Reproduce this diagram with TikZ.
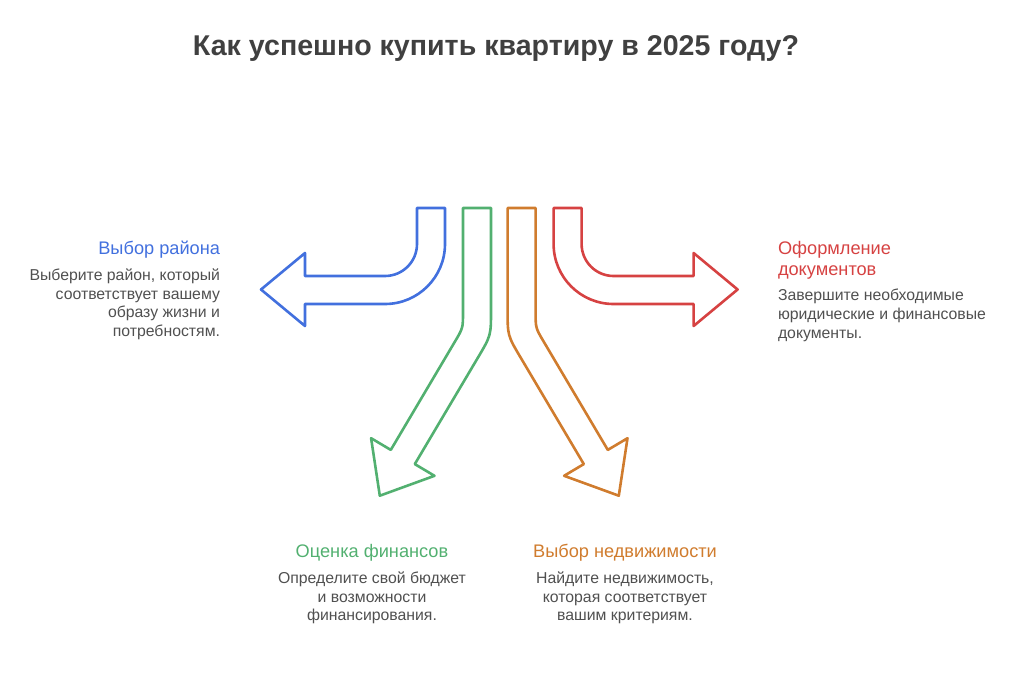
\documentclass[tikz,border=0pt]{standalone}
\usepackage{fontspec}
\setmainfont{Liberation Sans}
\usetikzlibrary{positioning}
\definecolor{ablue}{RGB}{66,112,222}
\definecolor{ared}{RGB}{214,66,66}
\definecolor{agreen}{RGB}{82,176,112}
\definecolor{aorange}{RGB}{208,124,46}
\definecolor{bodygray}{RGB}{80,80,80}
\definecolor{titlegray}{RGB}{64,64,64}
\tikzset{
    shaft/.style={line width=1.3pt, line join=round},
    heading/.style={inner sep=0pt, outer sep=0pt, font=\fontsize{9.1}{10.6}\selectfont},
    body/.style={inner sep=0pt, outer sep=0pt, text=bodygray, font=\fontsize{7.9}{9.4}\selectfont},
}

\begin{document}
\begin{tikzpicture}[x=0.5pt, y=-0.5pt, node distance=5pt]
    \useasboundingbox (0,0) rectangle (1024,681);
    \node[text=titlegray, font=\fontsize{14.3}{16}\selectfont\bfseries] (title) at (496,48) {Как успешно купить квартиру в 2025 году?};

    % side arrows, the right one mirrored
    \foreach \col/\flip in {ablue/1, ared/-1}{%
        \begin{scope}[shift={({499.3*(1-\flip)},0)}, xscale=\flip]
            \draw[shaft, \col] (417,208) -- (417,244) arc[start angle=0, end angle=90, radius=32]
                -- (305,276) -- (305,253) -- (261,289.5) -- (305,326) -- (305,304) -- (385,304)
                arc[start angle=90, end angle=0, radius=60] -- (445,208) -- cycle;
        \end{scope}
    }
    % lower arrows
    \foreach \col/\flip in {agreen/1, aorange/-1}{%
        \begin{scope}[shift={({499.3*(1-\flip)},0)}, xscale=\flip]
            \draw[shaft, \col] (463,208) -- (463,312) .. controls (463,328) .. (454.8,341.8)
                -- (390.8,449.9) -- (371.1,438.2) -- (379.8,495.7) -- (434.5,475.8) -- (414.8,464.1)
                -- (477.7,358) .. controls (491,335.6) .. (491,310) -- (491,208) -- cycle;
        \end{scope}
    }

    % labels
    \node[heading, text=ablue, anchor=east] (headDistrict) at (220,250) {Выбор района};
    \node[body, align=right, below=of headDistrict.south east, anchor=north east] (txtDistrict)
        {Выберите район, который\\соответствует вашему\\образу жизни и\\потребностям.};

    \node[heading, text=ared, align=left, anchor=north west] (headDocs) at (778,241) {Оформление\\документов};
    \node[body, align=left, below=of headDocs.south west, anchor=north west] (txtDocs)
        {Завершите необходимые\\юридические и финансовые\\документы.};

    \node[heading, text=agreen] (headMoney) at (372,553) {Оценка финансов};
    \node[body, align=center, below=of headMoney] (txtMoney)
        {Определите свой бюджет\\и возможности\\финансирования.};

    \node[heading, text=aorange] (headFlat) at (625,553) {Выбор недвижимости};
    \node[body, align=center, below=of headFlat] (txtFlat)
        {Найдите недвижимость,\\которая соответствует\\вашим критериям.};
\end{tikzpicture}
\end{document}
